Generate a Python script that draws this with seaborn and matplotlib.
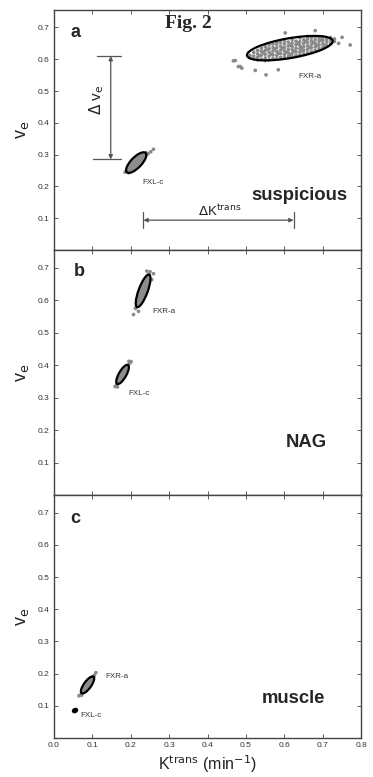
import numpy as np
import pandas as pd
import matplotlib
matplotlib.use("Agg")
import matplotlib.pyplot as plt
import seaborn as sns
from matplotlib.patches import Ellipse

# ---- data ----
# panel a, FXR-a cloud (Ktrans, ve)
fxr_a_k = [0.51, 0.51, 0.52, 0.52, 0.52, 0.53, 0.53, 0.53, 0.53, 0.54, 0.54, 0.54, 0.54,
           0.55, 0.55, 0.55, 0.55, 0.55, 0.56, 0.56, 0.56, 0.56, 0.56, 0.57, 0.57, 0.57, 0.57, 0.57,
           0.58, 0.58, 0.58, 0.58, 0.58, 0.58, 0.59, 0.59, 0.59, 0.59, 0.59,
           0.60, 0.60, 0.60, 0.60, 0.60, 0.60, 0.61, 0.61, 0.61, 0.61, 0.61,
           0.62, 0.62, 0.62, 0.62, 0.62, 0.62, 0.63, 0.63, 0.63, 0.63, 0.63,
           0.64, 0.64, 0.64, 0.64, 0.64, 0.64, 0.65, 0.65, 0.65, 0.65, 0.65,
           0.66, 0.66, 0.66, 0.66, 0.66, 0.66, 0.67, 0.67, 0.67, 0.67, 0.67,
           0.68, 0.68, 0.68, 0.68, 0.68, 0.69, 0.69, 0.69, 0.69, 0.70, 0.70, 0.70, 0.70,
           0.71, 0.71, 0.71, 0.72, 0.72, 0.72, 0.73, 0.73,
           0.555, 0.585, 0.615, 0.645, 0.675, 0.605, 0.635, 0.665, 0.595,
           0.545, 0.575, 0.625, 0.655, 0.685, 0.565, 0.695, 0.535, 0.705, 0.615, 0.645,
           0.467, 0.480, 0.489, 0.524, 0.552, 0.584, 0.771, 0.750, 0.741, 0.602, 0.680, 0.472, 0.485]
fxr_a_v = [0.612, 0.605, 0.610, 0.622, 0.601, 0.617, 0.606, 0.628, 0.598, 0.600, 0.613, 0.625, 0.635,
           0.604, 0.616, 0.628, 0.640, 0.596, 0.598, 0.610, 0.622, 0.633, 0.645, 0.603, 0.614, 0.626, 0.637, 0.648,
           0.601, 0.612, 0.624, 0.636, 0.647, 0.655, 0.606, 0.618, 0.629, 0.641, 0.652,
           0.605, 0.615, 0.626, 0.637, 0.648, 0.658, 0.609, 0.620, 0.631, 0.642, 0.654,
           0.608, 0.619, 0.630, 0.640, 0.651, 0.662, 0.613, 0.624, 0.635, 0.646, 0.657,
           0.612, 0.622, 0.633, 0.644, 0.655, 0.667, 0.617, 0.628, 0.639, 0.650, 0.661,
           0.620, 0.631, 0.642, 0.653, 0.664, 0.672, 0.624, 0.636, 0.647, 0.658, 0.668,
           0.628, 0.639, 0.650, 0.661, 0.671, 0.634, 0.645, 0.656, 0.666, 0.638, 0.649, 0.660, 0.670,
           0.644, 0.655, 0.664, 0.650, 0.660, 0.668, 0.656, 0.664,
           0.632, 0.619, 0.645, 0.628, 0.652, 0.622, 0.650, 0.637, 0.635,
           0.621, 0.633, 0.626, 0.656, 0.644, 0.616, 0.661, 0.611, 0.644, 0.614, 0.637,
           0.595, 0.577, 0.572, 0.565, 0.551, 0.567, 0.645, 0.669, 0.650, 0.683, 0.690, 0.596, 0.577]
# panel a, FXL-c cloud
fxl_a_k = [0.185, 0.190, 0.194, 0.198, 0.203, 0.208, 0.213, 0.218, 0.223, 0.228, 0.233, 0.238, 0.245, 0.252, 0.259, 0.196, 0.240]
fxl_a_v = [0.245, 0.250, 0.243, 0.252, 0.258, 0.262, 0.268, 0.275, 0.281, 0.286, 0.292, 0.297, 0.303, 0.309, 0.317, 0.258, 0.306]
# panel b
fxr_b_k = [0.207, 0.212, 0.220, 0.215, 0.222, 0.228, 0.233, 0.238, 0.243, 0.2415, 0.259, 0.2545, 0.250, 0.247]
fxr_b_v = [0.556, 0.575, 0.566, 0.583, 0.600, 0.620, 0.640, 0.660, 0.675, 0.690, 0.682, 0.664, 0.688, 0.680]
fxl_b_k = [0.159, 0.163, 0.168, 0.172, 0.177, 0.182, 0.187, 0.192, 0.197, 0.2006, 0.165, 0.195]
fxl_b_v = [0.334, 0.340, 0.350, 0.360, 0.370, 0.380, 0.390, 0.398, 0.406, 0.411, 0.333, 0.412]
# panel c
fxr_c_k = [0.065, 0.070, 0.075, 0.080, 0.085, 0.090, 0.095, 0.100, 0.105, 0.109, 0.072, 0.103]
fxr_c_v = [0.131, 0.136, 0.142, 0.150, 0.160, 0.170, 0.180, 0.188, 0.195, 0.203, 0.133, 0.190]
fxl_c_k = [0.053, 0.056]
fxl_c_v = [0.083, 0.087]

# ellipses: panel, center k, center ve, width, height, angle, fill
ell_panel = [0, 0, 1, 1, 2, 2]
ell_k = [0.614, 0.214, 0.232, 0.1785, 0.0873, 0.0547]
ell_v = [0.635, 0.275, 0.629, 0.3715, 0.1648, 0.0854]
ell_w = [0.228, 0.078, 0.105, 0.065, 0.060, 0.012]
ell_h = [0.062, 0.030, 0.024, 0.020, 0.020, 0.009]
ell_ang = [12, 53, 73, 65, 60, 40]
ell_fill = ['none', '#8c8c8c', '#8c8c8c', '#8c8c8c', '#8c8c8c', 'black']

panel_letters = ['a', 'b', 'c']
panel_names = ['suspicious', 'NAG', 'muscle']
xticks = [0, 0.1, 0.2, 0.3, 0.4, 0.5, 0.6, 0.7, 0.8]
yticks = [0.1, 0.2, 0.3, 0.4, 0.5, 0.6, 0.7]

clouds = [(0, fxr_a_k, fxr_a_v), (0, fxl_a_k, fxl_a_v), (1, fxr_b_k, fxr_b_v),
          (1, fxl_b_k, fxl_b_v), (2, fxr_c_k, fxr_c_v), (2, fxl_c_k, fxl_c_v)]
rows = []
for p, ks, vs in clouds:
    for k, v in zip(ks, vs):
        rows.append({'panel': p, 'Ktrans': k, 've': v})
df = pd.DataFrame(rows)

sns.set_theme(style="ticks")
plt.rcParams['font.family'] = ['Liberation Sans', 'DejaVu Sans']

fig = plt.figure(figsize=(3.73, 7.77), dpi=100)
H = 777.0
tops = [10, 250, 495]
bots = [250, 495, 738]
axes = []
for i in range(3):
    ax = fig.add_axes([54 / 373, 1 - bots[i] / H, 307.3 / 373, (bots[i] - tops[i]) / H])
    axes.append(ax)

edge = '#444444'
for i, ax in enumerate(axes):
    sub = df[df.panel == i]
    sns.scatterplot(data=sub, x='Ktrans', y='ve', ax=ax, color='#8a8a8a', s=7,
                    edgecolor='none', linewidth=0, legend=False)
    for j in range(len(ell_k)):
        if ell_panel[j] != i:
            continue
        ax.add_patch(Ellipse((ell_k[j], ell_v[j]), ell_w[j], ell_h[j], angle=ell_ang[j],
                             facecolor=ell_fill[j], edgecolor='black', lw=1.6, zorder=3))
    ax.set_xlim(0, 0.8)
    ax.set_ylim(0, 0.755)
    ax.set_xticks(xticks)
    ax.set_yticks(yticks)
    ax.tick_params(direction='in', length=3, width=0.6, colors=edge, labelsize=6,
                   labelcolor='#333333', top=True, right=True, pad=3)
    for s in ax.spines.values():
        s.set_color(edge)
        s.set_linewidth(1.0)
    ax.set_xlabel('')
    ax.set_ylabel('v$_\\mathrm{e}$', fontsize=13, color='#222222', labelpad=5)
    if i < 2:
        ax.set_xticklabels([])
    ax.text(0.055 if i != 1 else 0.065, 0.683 if i != 1 else 0.69, panel_letters[i],
            fontsize=13, fontweight='bold', ha='center', va='center')

axes[2].set_xlabel('K$^{\\mathrm{trans}}$ (min$^{-1}$)', fontsize=11.5, color='#222222', labelpad=3)

# cluster labels
lab_kw = dict(fontsize=5.8, color='#333333', ha='center', va='center')
axes[0].text(0.667, 0.546, 'FXR-a', **lab_kw)
axes[0].text(0.259, 0.213, 'FXL-c', **lab_kw)
axes[1].text(0.285, 0.566, 'FXR-a', **lab_kw)
axes[1].text(0.222, 0.313, 'FXL-c', **lab_kw)
axes[2].text(0.163, 0.19, 'FXR-a', **lab_kw)
axes[2].text(0.0955, 0.069, 'FXL-c', **lab_kw)

name_pos = [(0.513, 0.172, 'left'), (0.657, 0.161, 'center'), (0.624, 0.124, 'center')]
for i, (x, y, ha) in enumerate(name_pos):
    axes[i].text(x, y, panel_names[i], fontsize=13.3, fontweight='bold', ha=ha, va='center')

axes[0].text(0.35, 0.712, 'Fig. 2', fontsize=14, fontweight='bold', ha='center', va='center',
             family=['Liberation Serif', 'DejaVu Serif'])

# delta annotations in panel a
arrow_col = '#555555'
dv_x, dv_top, dv_bot = 0.1477, 0.61, 0.285
dk_y, dk_left, dk_right = 0.0938, 0.2328, 0.6236
ax = axes[0]
ax.annotate('', xy=(dv_x, dv_top), xytext=(dv_x, dv_bot),
            arrowprops=dict(arrowstyle='<|-|>', color=arrow_col, lw=0.9, mutation_scale=6,
                            shrinkA=0, shrinkB=0))
ax.plot([0.1115, 0.1745], [dv_top, dv_top], color=arrow_col, lw=0.9)
ax.plot([0.1025, 0.1745], [dv_bot, dv_bot], color=arrow_col, lw=0.9)
ax.annotate('', xy=(dk_left, dk_y), xytext=(dk_right, dk_y),
            arrowprops=dict(arrowstyle='<|-|>', color=arrow_col, lw=0.9, mutation_scale=6,
                            shrinkA=0, shrinkB=0))
ax.plot([dk_left, dk_left], [0.07, 0.12], color=arrow_col, lw=0.9)
ax.plot([dk_right, dk_right], [0.07, 0.12], color=arrow_col, lw=0.9)
ax.text(0.112, 0.473, '$\\Delta$ v$_\\mathrm{e}$', rotation=90, fontsize=11, color='#222222',
        ha='center', va='center')
ax.text(0.4326, 0.122, '$\\Delta$K$^{\\mathrm{trans}}$', fontsize=9.5, color='#222222',
        ha='center', va='center')

fig.savefig('out.png', dpi=100)
